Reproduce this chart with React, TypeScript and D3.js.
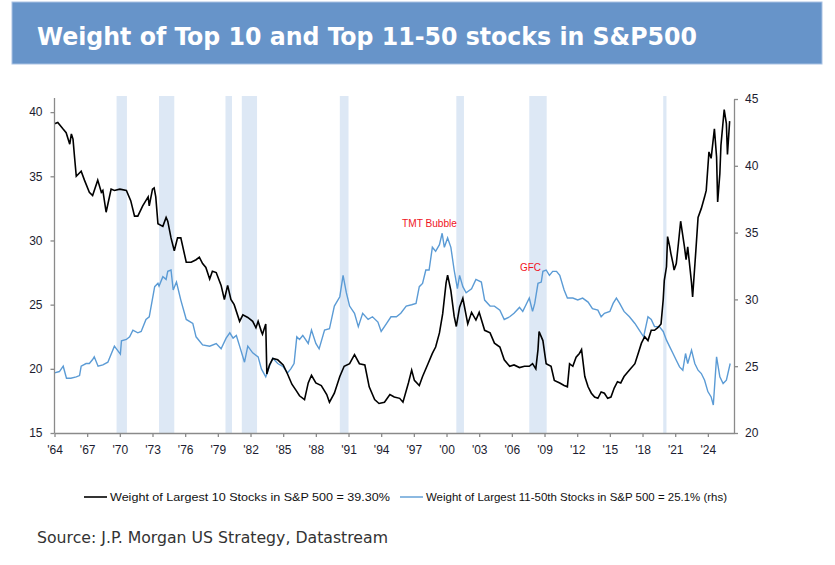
import * as d3 from "d3";
import { useEffect, useRef } from "react";

// decimal years
const top10Dates = [
  1964.0, 1964.3, 1964.77, 1965.07, 1965.4, 1965.55, 1965.7, 1965.84, 1966.0, 1966.45, 1966.75,
  1967.2, 1967.5, 1967.97, 1968.3, 1968.44, 1968.74, 1969.2, 1969.5, 1970.0, 1970.6, 1971.0,
  1971.35, 1971.65, 1972.1, 1972.6, 1972.7, 1973.0, 1973.15, 1973.3, 1973.5, 1973.95, 1974.25,
  1974.4, 1974.7, 1975.0, 1975.3, 1975.6, 1976.1, 1976.55, 1977.0, 1977.3, 1977.6, 1977.9,
  1978.25, 1978.5, 1978.85, 1979.3, 1979.6, 1979.9, 1980.2, 1980.5, 1981.0, 1981.3, 1981.75,
  1982.2, 1982.5, 1982.7, 1983.0, 1983.1, 1983.4, 1983.5, 1983.74, 1984.05, 1984.5, 1985.0,
  1985.4, 1985.8, 1986.2, 1986.5, 1986.96, 1987.3, 1987.6, 1988.0, 1988.5, 1989.0, 1989.25,
  1989.7, 1990.2, 1990.6, 1991.1, 1991.55, 1992.0, 1992.5, 1992.9, 1993.4, 1993.8, 1994.3,
  1994.8, 1995.2, 1995.7, 1996.0, 1996.5, 1996.8, 1997.05, 1997.5, 1997.8, 1998.3, 1998.7,
  1999.0, 1999.35, 1999.65, 1999.96, 2000.1, 2000.4, 2000.7, 2000.9, 2001.2, 2001.5, 2001.95,
  2002.3, 2002.7, 2003.0, 2003.5, 2004.0, 2004.4, 2004.9, 2005.3, 2005.8, 2006.2, 2006.7,
  2007.16, 2007.6, 2007.9, 2008.2, 2008.4, 2008.5, 2008.85, 2009.15, 2009.6, 2009.9, 2010.4,
  2010.8, 2011.1, 2011.3, 2011.6, 2011.9, 2012.2, 2012.4, 2012.7, 2013.0, 2013.3, 2013.6,
  2013.9, 2014.2, 2014.5, 2014.8, 2015.1, 2015.4, 2015.7, 2016.0, 2016.3, 2016.8, 2017.3,
  2017.6, 2017.9, 2018.2, 2018.5, 2018.8, 2019.1, 2019.4, 2019.7, 2019.9, 2020.0, 2020.2,
  2020.3, 2020.5, 2020.6, 2020.8, 2020.9, 2021.1, 2021.3, 2021.5, 2021.85, 2022.0, 2022.15,
  2022.5, 2022.6, 2022.9, 2023.1, 2023.4, 2023.7, 2023.85, 2024.1, 2024.3, 2024.6, 2024.8,
  2024.9, 2025.1, 2025.2, 2025.5, 2025.7, 2025.8, 2026.0,
];
const top10Values = [
  39.1, 39.2, 38.7, 38.4, 37.5, 38.3, 37.9, 36.5, 35.0, 35.4, 34.7,
  33.75, 33.5, 34.7, 33.75, 33.9, 32.2, 34.0, 33.9, 34.0, 33.9, 33.1,
  31.9, 31.9, 32.7, 33.4, 32.7, 34.0, 34.1, 33.4, 31.3, 31.1, 31.8,
  31.5, 30.2, 29.2, 30.2, 30.2, 28.3, 28.3, 28.5, 28.7, 28.2, 27.9,
  27.0, 27.6, 27.5, 26.5, 25.4, 26.5, 25.4, 25.0, 23.7, 24.2, 24.0,
  23.7, 23.2, 23.7, 22.9, 22.7, 23.5, 19.6, 20.3, 20.8, 20.7, 20.3,
  19.6, 18.8, 18.3, 17.9, 17.6, 18.9, 19.5, 18.9, 18.7, 18.0, 17.4,
  18.1, 19.4, 20.2, 20.4, 21.1, 20.4, 20.3, 18.6, 17.6, 17.3, 17.4,
  18.0, 17.8, 17.7, 17.4, 18.9, 19.9, 19.1, 18.7, 19.4, 20.4, 21.2,
  21.7, 22.8, 24.3, 26.7, 27.3, 26.1, 24.1, 23.3, 24.8, 25.5, 23.5,
  24.4, 23.8, 24.4, 23.0, 22.8, 22.0, 21.7, 20.7, 20.2, 20.3, 20.1,
  20.2, 20.2, 20.4, 20.0, 21.5, 22.9, 22.2, 20.4, 20.2, 19.1, 18.9,
  18.7, 18.6, 20.4, 20.2, 20.9, 21.2, 21.5, 19.4, 18.6, 18.1, 17.8,
  17.7, 18.2, 18.1, 17.7, 17.8, 18.5, 19.0, 18.9, 19.4, 19.9, 20.4,
  21.2, 22.0, 22.5, 22.2, 23.0, 23.0, 23.2, 23.5, 25.4, 26.9, 27.95,
  30.3, 29.5, 29.0, 28.2, 27.7, 28.2, 29.8, 31.5, 29.5, 28.5, 29.5,
  26.7, 25.6, 29.25, 31.8, 32.5, 33.4, 33.9, 36.9, 36.4, 38.7, 36.5,
  33.0, 35.2, 37.4, 40.2, 39.1, 36.7, 39.3,
];

const top50Dates = [
  1964.0, 1964.45, 1964.8, 1965.1, 1965.5, 1966.0, 1966.3, 1966.45, 1966.9, 1967.2, 1967.5,
  1967.65, 1968.0, 1968.44, 1968.9, 1969.5, 1970.05, 1970.15, 1970.6, 1970.9, 1971.2, 1971.65,
  1971.96, 1972.4, 1972.7, 1973.2, 1973.5, 1973.6, 1973.95, 1974.25, 1974.4, 1974.7, 1974.9,
  1975.2, 1975.6, 1976.1, 1976.7, 1977.0, 1977.6, 1978.25, 1978.85, 1979.3, 1979.76, 1980.1,
  1980.4, 1980.7, 1981.0, 1981.45, 1981.75, 1982.2, 1982.7, 1983.0, 1983.4, 1983.74, 1984.05,
  1984.5, 1985.0, 1985.4, 1985.7, 1986.0, 1986.25, 1986.5, 1986.8, 1987.3, 1987.6, 1988.0,
  1988.3, 1988.8, 1989.25, 1989.7, 1990.2, 1990.5, 1990.8, 1991.1, 1991.55, 1991.9, 1992.3,
  1992.8, 1993.2, 1993.7, 1994.0, 1994.5, 1994.9, 1995.4, 1995.8, 1996.3, 1996.8, 1997.2,
  1997.5, 1997.8, 1998.1, 1998.4, 1998.7, 1999.0, 1999.35, 1999.6, 1999.8, 2000.1, 2000.4,
  2000.7, 2001.0, 2001.2, 2001.5, 2001.8, 2002.3, 2002.7, 2003.2, 2003.5, 2004.0, 2004.4,
  2004.9, 2005.3, 2005.8, 2006.2, 2006.7, 2007.0, 2007.3, 2007.6, 2007.9, 2008.1, 2008.4,
  2008.7, 2008.85, 2009.15, 2009.45, 2009.75, 2010.1, 2010.4, 2010.8, 2011.1, 2011.6, 2012.05,
  2012.5, 2013.0, 2013.4, 2013.9, 2014.2, 2014.5, 2015.0, 2015.3, 2015.6, 2015.9, 2016.3,
  2016.8, 2017.3, 2017.7, 2018.1, 2018.5, 2018.8, 2019.1, 2019.55, 2019.9, 2020.2, 2020.5,
  2020.8, 2021.1, 2021.4, 2021.7, 2021.95, 2022.15, 2022.5, 2022.8, 2023.1, 2023.4, 2023.7,
  2024.0, 2024.3, 2024.5, 2024.8, 2025.1, 2025.4, 2025.7, 2026.05,
];
const top50Values = [
  24.5, 24.6, 25.0, 24.1, 24.1, 24.2, 24.3, 25.0, 25.2, 25.2, 25.5,
  25.7, 25.0, 25.1, 25.3, 26.5, 25.9, 26.9, 27.0, 27.2, 27.7, 27.5,
  27.6, 28.5, 28.7, 30.95, 31.2, 31.0, 31.7, 31.5, 32.1, 32.2, 30.7,
  31.3, 29.95, 28.5, 28.2, 27.2, 26.6, 26.5, 26.7, 26.3, 27.1, 27.5,
  27.1, 27.3, 26.5, 25.3, 26.5, 26.0, 25.7, 24.8, 24.2, 25.0, 25.6,
  25.2, 24.96, 24.5, 24.8, 25.2, 27.2, 27.0, 27.3, 26.7, 27.7, 26.7,
  26.3, 27.7, 27.8, 29.5, 30.2, 31.8, 30.5, 29.5, 28.96, 27.96, 28.96,
  28.5, 28.7, 28.3, 27.6, 28.2, 28.7, 28.7, 28.96, 29.5, 29.6, 29.7,
  30.95, 31.2, 32.2, 32.2, 33.9, 33.6, 34.1, 34.95, 33.9, 34.6, 33.9,
  32.2, 30.8, 31.8, 30.95, 30.5, 30.8, 31.5, 31.3, 29.95, 29.5, 29.5,
  29.2, 28.5, 28.7, 28.96, 29.4, 29.1, 29.6, 30.1, 29.1, 29.7, 31.2,
  31.3, 32.1, 32.2, 31.8, 32.1, 32.1, 31.8, 30.7, 30.1, 30.1, 29.96,
  30.1, 29.8, 29.3, 29.2, 28.7, 28.96, 29.1, 29.7, 30.1, 29.7, 29.1,
  28.7, 28.2, 27.7, 27.2, 28.7, 28.5, 27.96, 27.96, 27.6, 26.95, 26.45,
  25.95, 25.45, 24.95, 24.7, 25.95, 25.2, 26.2, 25.2, 24.7, 24.45, 23.95,
  23.1, 22.7, 22.1, 25.7, 24.2, 23.7, 23.95, 25.2,
];

// shaded recession periods
const recessionStart = [1969.7, 1973.6, 1979.7, 1981.2, 1990.2, 2000.9, 2007.6, 2019.9];
const recessionEnd = [1970.65, 1975.0, 1980.3, 1982.6, 1991.0, 2001.6, 2009.2, 2020.2];

const xTickYears = d3.range(1964, 2025, 3);
const leftTicks = [15, 20, 25, 30, 35, 40];
const rightTicks = [20, 25, 30, 35, 40, 45];

const title = "Weight of Top 10 and Top 11-50 stocks in S&P500";
const legend1 = "Weight of Largest 10 Stocks in S&P 500 = 39.30%";
const legend2 = "Weight of Largest 11-50th Stocks in S&P 500 = 25.1% (rhs)";
const source = "Source: J.P. Morgan US Strategy, Datastream";

const width = 835;
const height = 565;
const plot = { left: 54.5, right: 734, top: 98, bottom: 433 };
const narrow = "'Liberation Sans Narrow', 'Arial Narrow', 'Liberation Sans', Arial, sans-serif";

const App = () => {
  const ref = useRef<SVGGElement>(null);

  const x = d3.scaleLinear().domain([1964, 2026.4]).range([plot.left, plot.right]);
  const yLeft = d3.scaleLinear().domain([15, 41.1]).range([plot.bottom, plot.top]);
  const yRight = d3.scaleLinear().domain([20, 45]).range([plot.bottom, 99]);

  const lineLeft = d3
    .line<number>()
    .x((_, i) => x(top10Dates[i]))
    .y((d) => yLeft(d));
  const lineRight = d3
    .line<number>()
    .x((_, i) => x(top50Dates[i]))
    .y((d) => yRight(d));

  useEffect(() => {
    const g = d3.select(ref.current);
    g.selectAll("*").remove();

    const xAxis = g
      .append("g")
      .attr("transform", `translate(0, ${plot.bottom})`)
      .call(
        d3
          .axisBottom(x)
          .tickValues(xTickYears)
          .tickSize(4)
          .tickSizeOuter(0)
          .tickPadding(8)
          .tickFormat((d) => `'${String(d).slice(2)}`)
      );

    const leftAxis = g
      .append("g")
      .attr("transform", `translate(${plot.left}, 0)`)
      .call(d3.axisLeft(yLeft).tickValues(leftTicks).tickSize(4).tickSizeOuter(0).tickPadding(8));

    const rightAxis = g
      .append("g")
      .attr("transform", `translate(${plot.right}, 0)`)
      .call(d3.axisRight(yRight).tickValues(rightTicks).tickSize(4).tickSizeOuter(0).tickPadding(7));

    [xAxis, leftAxis, rightAxis].forEach((a) => {
      a.select(".domain").attr("stroke", "#8a8a8a").attr("stroke-width", 1.3);
      a.selectAll(".tick line").attr("stroke", "#8a8a8a").attr("stroke-width", 1.3);
      a.selectAll(".tick text")
        .attr("fill", "#1c1c30")
        .style("font-family", "'Liberation Sans', Arial, sans-serif")
        .style("font-size", "12px");
    });
    // left axis line runs to the top of the plot
    leftAxis.select(".domain").attr("d", `M0,${plot.bottom}V${plot.top}`);
  }, []);

  return (
    <svg
      width={width}
      height={height}
      style={{ position: "absolute", left: 0, top: 0, background: "#fff" }}
    >
      <rect x={12} y={2} width={810} height={62} fill="#6794c9" stroke="#a9c2e3" strokeWidth={1} />
      <text
        x={37}
        y={45}
        fill="#fff"
        textLength={660}
        lengthAdjust="spacingAndGlyphs"
        style={{ fontFamily: "'DejaVu Sans Condensed', 'DejaVu Sans', sans-serif", fontWeight: "bold", fontSize: 25 }}
      >
        {title}
      </text>

      {recessionStart.map((s, i) => (
        <rect
          key={i}
          x={x(s)}
          y={96}
          width={Math.max(x(recessionEnd[i]) - x(s), 3)}
          height={plot.bottom - 96}
          fill="#dde8f5"
        />
      ))}

      <path d={lineRight(top50Values) ?? ""} fill="none" stroke="#5b9bd5" strokeWidth={1.4} />
      <path d={lineLeft(top10Values) ?? ""} fill="none" stroke="#000" strokeWidth={1.6} />

      <g ref={ref} />

      <text x={402} y={227} fill="#f0141e" textLength={55} lengthAdjust="spacingAndGlyphs" style={{ fontFamily: narrow, fontSize: 11 }}>
        TMT Bubble
      </text>
      <text x={520} y={271} fill="#f0141e" textLength={21} lengthAdjust="spacingAndGlyphs" style={{ fontFamily: narrow, fontSize: 11 }}>
        GFC
      </text>

      <line x1={84} x2={107} y1={497} y2={497} stroke="#000" strokeWidth={1.6} />
      <text x={110} y={501} fill="#111" textLength={280} lengthAdjust="spacingAndGlyphs" style={{ fontFamily: narrow, fontSize: 11.5 }}>
        {legend1}
      </text>
      <line x1={400} x2={423} y1={497} y2={497} stroke="#5b9bd5" strokeWidth={1.4} />
      <text x={426} y={501} fill="#111" textLength={301} lengthAdjust="spacingAndGlyphs" style={{ fontFamily: narrow, fontSize: 11.5 }}>
        {legend2}
      </text>

      <text
        x={37}
        y={543}
        fill="#333"
        textLength={351}
        lengthAdjust="spacingAndGlyphs"
        style={{ fontFamily: "'DejaVu Sans Condensed', 'DejaVu Sans', sans-serif", fontSize: 15 }}
      >
        {source}
      </text>
    </svg>
  );
};

export default App;
